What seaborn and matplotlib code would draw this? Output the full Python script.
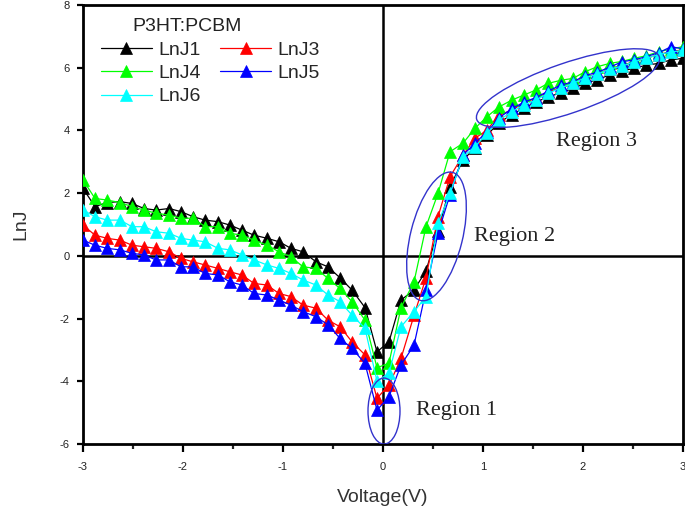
import matplotlib
matplotlib.use("Agg")
import matplotlib.pyplot as plt
import matplotlib.transforms as mtransforms
from matplotlib.patches import Ellipse
from matplotlib.ticker import MultipleLocator
import seaborn as sns
import pandas as pd

# ---- data ----
voltage = [-3.00, -2.88, -2.76, -2.63, -2.51, -2.39, -2.27, -2.14, -2.02, -1.90,
           -1.78, -1.65, -1.53, -1.41, -1.29, -1.16, -1.04, -0.92, -0.80, -0.67,
           -0.55, -0.43, -0.31, -0.18, -0.06, 0.06, 0.18, 0.31, 0.43, 0.55,
           0.67, 0.80, 0.92, 1.04, 1.16, 1.29, 1.41, 1.53, 1.65, 1.78,
           1.90, 2.02, 2.14, 2.27, 2.39, 2.51, 2.63, 2.76, 2.88, 3.00]

lnj1 = [2.15, 1.57, 1.70, 1.73, 1.67, 1.51, 1.46, 1.51, 1.41, 1.25,
        1.14, 1.09, 0.98, 0.82, 0.66, 0.56, 0.45, 0.24, 0.13, -0.19,
        -0.35, -0.70, -1.09, -1.65, -3.06, -2.74, -1.41, -1.09, -0.48, 0.80,
        2.20, 3.05, 3.45, 3.85, 4.25, 4.50, 4.72, 4.90, 5.07, 5.20,
        5.34, 5.50, 5.62, 5.77, 5.90, 5.98, 6.08, 6.14, 6.25, 6.30]

lnj3 = [0.98, 0.66, 0.56, 0.50, 0.34, 0.29, 0.24, 0.13, -0.08, -0.19,
        -0.29, -0.40, -0.51, -0.61, -0.88, -0.93, -1.20, -1.30, -1.57, -1.67,
        -2.05, -2.26, -2.74, -3.16, -4.54, -4.12, -3.27, -1.90, -0.70, 1.25,
        2.52, 3.21, 3.75, 4.01, 4.49, 4.65, 4.88, 5.03, 5.22, 5.38,
        5.52, 5.70, 5.80, 5.97, 6.07, 6.20, 6.30, 6.42, 6.52, 6.57]

lnj4 = [2.42, 1.83, 1.78, 1.70, 1.57, 1.46, 1.36, 1.30, 1.20, 1.20,
        0.93, 0.93, 0.72, 0.66, 0.50, 0.34, 0.13, -0.03, -0.35, -0.40,
        -0.72, -1.04, -1.46, -2.05, -3.57, -3.42, -1.65, -0.83, 0.93, 1.99,
        3.32, 3.59, 4.07, 4.44, 4.75, 4.97, 5.13, 5.29, 5.50, 5.60,
        5.66, 5.87, 6.03, 6.14, 6.20, 6.30, 6.38, 6.51, 6.60, 6.67]

lnj5 = [0.50, 0.34, 0.24, 0.19, 0.08, 0.03, -0.13, -0.13, -0.35, -0.35,
        -0.56, -0.61, -0.83, -0.93, -1.20, -1.25, -1.41, -1.57, -1.78, -1.94,
        -2.20, -2.63, -2.95, -3.43, -4.92, -4.49, -3.48, -2.85, -1.10, 0.72,
        1.95, 3.21, 3.60, 3.95, 4.40, 4.70, 4.90, 5.05, 5.25, 5.45,
        5.55, 5.75, 5.85, 6.02, 6.19, 6.25, 6.35, 6.48, 6.67, 6.60]

lnj6 = [1.46, 1.25, 1.14, 1.14, 0.93, 0.93, 0.77, 0.72, 0.56, 0.50,
        0.45, 0.24, 0.19, 0.03, -0.13, -0.29, -0.40, -0.56, -0.77, -0.93,
        -1.25, -1.46, -1.89, -2.31, -4.00, -3.74, -2.26, -1.78, -1.30, 1.04,
        1.99, 3.16, 3.48, 3.91, 4.33, 4.60, 4.81, 4.97, 5.18, 5.36,
        5.50, 5.68, 5.79, 5.96, 6.05, 6.19, 6.30, 6.42, 6.50, 6.55]

series_names = ["LnJ1", "LnJ3", "LnJ4", "LnJ5", "LnJ6"]
series_values = [lnj1, lnj3, lnj4, lnj5, lnj6]
series_colors = ["#000000", "#ff0000", "#00ff00", "#0000ff", "#00ffff"]
legend_order = ["LnJ1", "LnJ4", "LnJ6", "LnJ3", "LnJ5"]

x_ticks = [-3, -2, -1, 0, 1, 2, 3]
y_ticks = [-6, -4, -2, 0, 2, 4, 6, 8]

# ---- figure ----
sns.set_style("ticks")
plt.rcParams["font.family"] = ["Liberation Sans", "DejaVu Sans"]

fig = plt.figure(figsize=(6.85, 5.20), dpi=100)
ax = fig.add_axes([83 / 685, 76 / 520, 600 / 685, 439 / 520])

ax.axhline(0, color="black", lw=1.8, zorder=1)
ax.axvline(0, color="black", lw=1.8, zorder=1)

for name, vals, col in zip(series_names, series_values, series_colors):
    df = pd.DataFrame({"Voltage": voltage, "LnJ": vals})
    sns.lineplot(data=df, x="Voltage", y="LnJ", ax=ax, color=col, lw=0.9,
                 marker="^", markersize=8.5, markeredgecolor=col,
                 markeredgewidth=0.5, label=name, zorder=3)

ax.set_xlim(-3, 3)
ax.set_ylim(-6, 8)
ax.set_xticks(x_ticks)
ax.set_yticks(y_ticks)
ax.xaxis.set_minor_locator(MultipleLocator(0.5))
ax.set_xticklabels([str(t) for t in x_ticks])
ax.set_yticklabels([str(t) for t in y_ticks])
ax.tick_params(axis="both", which="major", direction="out", width=1.6,
               labelsize=8, color="black", labelcolor="#222222")
ax.tick_params(axis="x", which="major", length=6, pad=7)
ax.tick_params(axis="y", which="major", length=4.5, pad=5)
ax.tick_params(axis="x", which="minor", direction="out", length=3.5, width=1.6)
for sp in ax.spines.values():
    sp.set_visible(True)
    sp.set_linewidth(2.0)
    sp.set_color("black")

ax.set_xlabel("Voltage(V)", fontsize=14, color="#333333", labelpad=12)
ax.set_ylabel("LnJ", fontsize=14, color="#333333", labelpad=22)

# legend
handles, labels = ax.get_legend_handles_labels()
hmap = dict(zip(labels, handles))
ax.legend([hmap[n] for n in legend_order], legend_order, ncol=2, loc="upper left",
          bbox_to_anchor=(0.030, 0.918), frameon=False, fontsize=14,
          handlelength=2.6, handletextpad=0.35, columnspacing=1.0,
          labelspacing=0.3, borderpad=0, borderaxespad=0)
ax.text(0.082, 0.95, "P3HT:PCBM", transform=ax.transAxes, fontsize=14,
        ha="left", va="center", color="#222222")

# region ellipses (sizes in inches, centred at data points)
ell_color = "#3333cc"
for (cx, cy, w, h, ang) in [(0.01, -4.95, 0.32, 0.66, 0),
                            (0.535, 0.62, 1.32, 0.52, 76),
                            (1.85, 5.35, 1.93, 0.50, 19)]:
    tr = fig.dpi_scale_trans + mtransforms.ScaledTranslation(cx, cy, ax.transData)
    e = Ellipse((0, 0), w, h, angle=ang, fill=False, ec=ell_color, lw=1.0,
                transform=tr, zorder=5)
    ax.add_patch(e)

serif = ["Liberation Serif", "DejaVu Serif"]
ax.text(0.74, -4.93, "Region 1", fontsize=16, family=serif, ha="center", va="center", color="#222222")
ax.text(1.32, 0.63, "Region 2", fontsize=16, family=serif, ha="center", va="center", color="#222222")
ax.text(2.13, 3.65, "Region 3", fontsize=16, family=serif, ha="center", va="center", color="#222222")

fig.savefig("out.png", dpi=100)
